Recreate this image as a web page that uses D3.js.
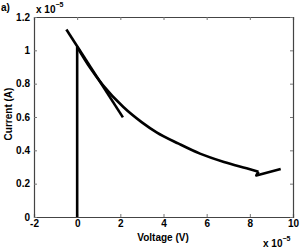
<!DOCTYPE html>
<html>
<head>
<meta charset="utf-8">
<script src="https://cdn.jsdelivr.net/npm/d3@7"></script>
<style>
body { margin:0; background:#fff; }
svg { font-family: "Liberation Sans", Arial, Helvetica, sans-serif; font-weight:bold; }
</style>
</head>
<body>
<svg id="chart" width="300" height="249"></svg>
<script>
// values in units of 1e-5
var xTicks = [-2, 0, 2, 4, 6, 8, 10];
var xTickLabels = ["-2", "0", "2", "4", "6", "8", "10"];
var yTicks = [0, 0.2, 0.4, 0.6, 0.8, 1, 1.2];
var yTickLabels = ["0", "0.2", "0.4", "0.6", "0.8", "1", "1.2"];

// vertical rise at zero voltage
var riseV = [0, 0];
var riseI = [0, 1.02];
// main decay curve
var mainV = [0, 0.6, 1.2, 2.14, 3.0, 3.68, 4.7, 5.69, 6.8, 7.85, 8.4];
var mainI = [1.02, 0.895, 0.79, 0.66, 0.568, 0.508, 0.44, 0.38, 0.33, 0.292, 0.272];
// hook at the end of the sweep
var hookV = [8.4, 8.3, 9.43];
var hookI = [0.272, 0.249, 0.288];
// short straight branch
var branchV = [-0.5, 2.12];
var branchI = [1.125, 0.598];

var svg = d3.select("#chart");
var padding = {top:17, right:7, bottom:32, left:34};
var chartArea = {
    "width": 300 - padding.left - padding.right,
    "height": 249 - padding.top - padding.bottom
};

var xScale = d3.scaleLinear().domain([-2, 10]).range([0, chartArea.width]);
var yScale = d3.scaleLinear().domain([0, 1.2]).range([chartArea.height, 0]);

var g = svg.append("g")
    .attr('transform', 'translate('+padding.left+','+padding.top+')');

// axes (ticks pointing inward, mirrored like matlab)
var xAxis = g.append("g")
    .attr('transform', 'translate(0,'+chartArea.height+')')
    .call(d3.axisBottom(xScale).tickValues(xTicks).tickSize(-3).tickPadding(4)
        .tickFormat((d, i) => xTickLabels[i]));
var xAxisTop = g.append("g")
    .call(d3.axisTop(xScale).tickValues(xTicks).tickSize(-3).tickFormat(""));
var yAxis = g.append("g")
    .call(d3.axisLeft(yScale).tickValues(yTicks).tickSize(-3).tickPadding(4)
        .tickFormat((d, i) => yTickLabels[i]));
var yAxisRight = g.append("g")
    .attr('transform', 'translate('+chartArea.width+',0)')
    .call(d3.axisRight(yScale).tickValues(yTicks).tickSize(-3).tickFormat(""));

g.selectAll(".domain").attr("stroke", "#444").attr("stroke-width", 1.2);
g.selectAll(".tick line").attr("stroke", "#777");
g.selectAll(".tick text").attr("font-size", 10).attr("font-weight", "bold")
    .attr("font-family", '"Liberation Sans", Arial, sans-serif').attr("fill", "#000");
xAxis.selectAll(".tick text").attr("dy", "0.6em");

function series(vs, is) {
    return vs.map((v, i) => [v, is[i]]);
}

var line = d3.line()
    .x(d => xScale(d[0]))
    .y(d => yScale(d[1]));
var curve = d3.line()
    .x(d => xScale(d[0]))
    .y(d => yScale(d[1]))
    .curve(d3.curveMonotoneX);

function draw(data, gen) {
    g.append("path").datum(data)
        .attr("d", gen).attr("fill", "none").attr("stroke", "#000")
        .attr("stroke-width", 2.6).attr("stroke-linejoin", "round");
}
draw(series(riseV, riseI), line);
draw(series(mainV, mainI), curve);
draw(series(hookV, hookI), line);
draw(series(branchV, branchI), line);

// labels
svg.append("text").attr("x", 163).attr("y", 241).attr("text-anchor", "middle")
    .attr("font-size", 10).text("Voltage (V)");
svg.append("text").attr("transform", "translate(12,114) rotate(-90)").attr("text-anchor", "middle")
    .attr("font-size", 10).text("Current (A)");
svg.append("text").attr("x", 1).attr("y", 11).attr("font-size", 10).text("a)");

function exponent(x, y) {
    var t = svg.append("text").attr("x", x).attr("y", y).attr("font-size", 10);
    t.append("tspan").text("x 10");
    t.append("tspan").attr("dy", -6).attr("font-size", 7).text("\u22125");
}
exponent(36, 13);
exponent(263, 247);
</script>
</body>
</html>
